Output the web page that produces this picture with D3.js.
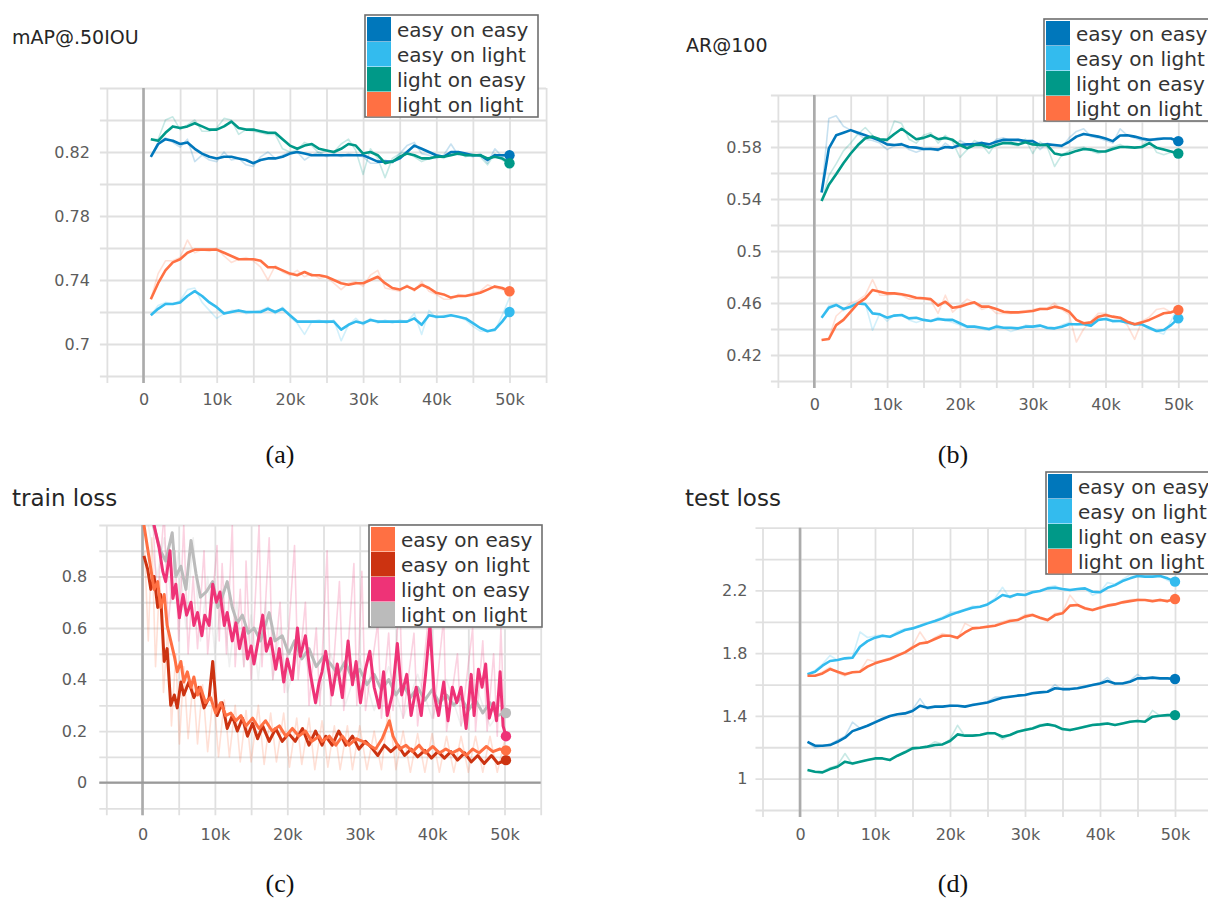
<!DOCTYPE html>
<html>
<head>
<meta charset="utf-8">
<script src="https://cdn.jsdelivr.net/npm/d3@7"></script>
<style>
  body { margin: 0; background: #fff; }
  svg { display: block; font-family: "DejaVu Sans", sans-serif; }
  .grid line { stroke: #e0e0e0; stroke-width: 1.8; }
  .grid text { fill: #5c5c5c; font-size: 16px; font-family: "DejaVu Sans", sans-serif; }
  .title { fill: #262626; }
  .legend text { fill: #333; font-size: 20px; }
  .cap { font-family: "Liberation Serif", serif; font-size: 26px; fill: #111; }
</style>
</head>
<body>
<svg width="1208" height="903"></svg>
<script>
// ---- data ----
// evaluation steps, in thousands
var steps = [1,2,3,4,5,6,7,8,9,10,11,12,13,14,15,16,17,18,19,20,21,22,23,24,25,
             26,27,28,29,30,31,32,33,34,35,36,37,38,39,40,41,42,43,44,45,46,47,48,49,50];

var seriesNames = ["easy on easy", "easy on light", "light on easy", "light on light"];

var xGrid = [-5000,0,5000,10000,15000,20000,25000,30000,35000,40000,45000,50000,55000];
var xLabels = [0,10000,20000,30000,40000,50000];

// (a) mAP@.50IOU, smoothed
var mapEE = [0.817,0.825,0.828,0.827,0.825,0.826,0.822,0.819,0.817,0.816,0.817,0.817,0.816,0.815,0.813,0.815,0.816,0.816,0.817,0.819,0.820,0.819,0.818,0.818,0.818,0.818,0.818,0.818,0.818,0.818,0.816,0.814,0.814,0.814,0.816,0.820,0.824,0.822,0.820,0.818,0.817,0.820,0.820,0.819,0.818,0.818,0.815,0.818,0.818,0.818];
var mapEL = [0.718,0.722,0.725,0.725,0.726,0.730,0.733,0.730,0.726,0.723,0.719,0.720,0.721,0.720,0.720,0.720,0.722,0.720,0.722,0.718,0.714,0.714,0.714,0.714,0.714,0.714,0.709,0.712,0.714,0.713,0.715,0.714,0.714,0.714,0.714,0.714,0.716,0.712,0.718,0.717,0.717,0.718,0.717,0.716,0.713,0.710,0.708,0.709,0.714,0.720];
var mapLE = [0.828,0.827,0.832,0.836,0.835,0.836,0.838,0.836,0.834,0.834,0.836,0.839,0.835,0.834,0.834,0.833,0.832,0.832,0.828,0.824,0.822,0.824,0.825,0.822,0.821,0.820,0.822,0.825,0.824,0.819,0.820,0.818,0.813,0.814,0.817,0.819,0.818,0.816,0.816,0.817,0.817,0.818,0.819,0.818,0.818,0.818,0.816,0.817,0.816,0.813];
var mapLL = [0.728,0.738,0.746,0.751,0.753,0.757,0.759,0.759,0.759,0.759,0.757,0.755,0.753,0.753,0.753,0.752,0.748,0.748,0.746,0.744,0.743,0.745,0.743,0.743,0.742,0.740,0.738,0.737,0.738,0.738,0.740,0.742,0.738,0.735,0.734,0.736,0.734,0.737,0.735,0.732,0.731,0.729,0.730,0.730,0.731,0.732,0.734,0.736,0.735,0.733];
// (a) raw
var mapEERaw = [0.817,0.826,0.829,0.826,0.823,0.828,0.814,0.818,0.815,0.814,0.820,0.815,0.816,0.812,0.811,0.817,0.820,0.816,0.818,0.820,0.820,0.815,0.818,0.820,0.817,0.819,0.817,0.819,0.818,0.817,0.813,0.813,0.815,0.813,0.819,0.824,0.826,0.819,0.818,0.816,0.818,0.825,0.818,0.818,0.817,0.819,0.813,0.822,0.817,0.818];
var mapELRaw = [0.718,0.724,0.726,0.725,0.727,0.734,0.735,0.726,0.721,0.716,0.719,0.721,0.721,0.719,0.720,0.721,0.723,0.719,0.723,0.717,0.713,0.706,0.714,0.715,0.713,0.715,0.702,0.712,0.716,0.712,0.716,0.713,0.715,0.713,0.715,0.714,0.719,0.706,0.721,0.716,0.718,0.718,0.717,0.715,0.711,0.708,0.708,0.708,0.718,0.729];
var mapLERaw = [0.828,0.828,0.840,0.842,0.834,0.837,0.840,0.833,0.833,0.835,0.841,0.840,0.831,0.834,0.833,0.832,0.831,0.831,0.822,0.820,0.821,0.826,0.824,0.819,0.821,0.820,0.825,0.828,0.821,0.806,0.822,0.816,0.804,0.816,0.819,0.820,0.817,0.814,0.816,0.818,0.816,0.819,0.820,0.817,0.819,0.817,0.812,0.819,0.815,0.812];
var mapLLRaw = [0.728,0.744,0.752,0.752,0.754,0.765,0.757,0.759,0.758,0.760,0.755,0.751,0.753,0.754,0.752,0.748,0.740,0.749,0.745,0.743,0.746,0.742,0.744,0.741,0.742,0.738,0.734,0.738,0.739,0.736,0.743,0.746,0.735,0.734,0.733,0.737,0.733,0.739,0.733,0.731,0.728,0.728,0.731,0.730,0.732,0.733,0.737,0.735,0.734,0.732];
var mapGrid = [0.68,0.70,0.72,0.74,0.76,0.78,0.80,0.82,0.84,0.86];
var mapTicks = [0.70,0.74,0.78,0.82];

// (b) AR@100, smoothed
var arEE = [0.545,0.579,0.589,0.591,0.593,0.591,0.589,0.587,0.585,0.582,0.5815,0.582,0.580,0.5795,0.5785,0.5785,0.578,0.580,0.5795,0.5815,0.582,0.582,0.583,0.582,0.584,0.5855,0.5855,0.5855,0.5845,0.5845,0.5815,0.582,0.5815,0.581,0.584,0.588,0.590,0.589,0.588,0.5865,0.5845,0.5888,0.589,0.588,0.5865,0.5855,0.586,0.5865,0.5865,0.5845];
var arEL = [0.4487,0.4564,0.4585,0.4554,0.4572,0.4597,0.459,0.452,0.4513,0.4487,0.4503,0.4508,0.4482,0.4487,0.447,0.4462,0.4477,0.447,0.447,0.4444,0.4418,0.4418,0.441,0.440,0.4418,0.441,0.441,0.4405,0.4418,0.4418,0.4426,0.441,0.4405,0.4418,0.4436,0.4436,0.4436,0.4426,0.447,0.4477,0.4462,0.4462,0.4451,0.4436,0.4436,0.441,0.4385,0.4392,0.443,0.4482];
var arLE = [0.5385,0.551,0.559,0.5675,0.575,0.5815,0.5867,0.588,0.586,0.5855,0.590,0.594,0.590,0.586,0.587,0.589,0.586,0.587,0.5855,0.5815,0.579,0.5815,0.5815,0.5795,0.5815,0.583,0.583,0.582,0.5836,0.582,0.5815,0.5815,0.575,0.5738,0.575,0.577,0.5785,0.578,0.5765,0.5765,0.5785,0.580,0.580,0.5795,0.580,0.583,0.5795,0.578,0.5765,0.575];
var arLL = [0.4315,0.4323,0.443,0.447,0.4533,0.4597,0.4636,0.470,0.4687,0.4674,0.4674,0.4667,0.4656,0.464,0.4636,0.463,0.458,0.461,0.4564,0.4572,0.459,0.4605,0.4572,0.4572,0.4554,0.4533,0.4528,0.4528,0.4533,0.4538,0.4554,0.4554,0.4572,0.456,0.4533,0.447,0.4444,0.4451,0.4495,0.4508,0.4495,0.4487,0.4456,0.4436,0.4451,0.447,0.4495,0.4521,0.4528,0.4546];
// (b) raw
var arEERaw = [0.545,0.602,0.604,0.596,0.593,0.590,0.586,0.585,0.583,0.578,0.581,0.583,0.578,0.576,0.578,0.579,0.577,0.583,0.579,0.585,0.582,0.583,0.584,0.580,0.586,0.587,0.585,0.586,0.584,0.585,0.578,0.583,0.581,0.580,0.587,0.592,0.594,0.588,0.587,0.585,0.583,0.594,0.589,0.587,0.585,0.585,0.587,0.587,0.586,0.583];
var arELRaw = [0.4487,0.458,0.459,0.454,0.458,0.461,0.460,0.439,0.452,0.446,0.451,0.451,0.447,0.445,0.447,0.446,0.449,0.447,0.445,0.443,0.441,0.442,0.440,0.439,0.443,0.441,0.438,0.440,0.443,0.442,0.443,0.440,0.440,0.443,0.445,0.443,0.444,0.442,0.449,0.450,0.445,0.446,0.444,0.443,0.443,0.440,0.438,0.436,0.446,0.458];
var arLERaw = [0.5385,0.558,0.567,0.577,0.583,0.590,0.595,0.589,0.584,0.585,0.600,0.598,0.586,0.583,0.589,0.591,0.583,0.589,0.584,0.572,0.578,0.585,0.582,0.575,0.584,0.584,0.582,0.581,0.586,0.575,0.584,0.580,0.565,0.574,0.577,0.579,0.580,0.577,0.575,0.577,0.580,0.582,0.579,0.579,0.581,0.586,0.576,0.574,0.576,0.574];
var arLLRaw = [0.4315,0.433,0.450,0.455,0.460,0.462,0.466,0.478,0.466,0.466,0.467,0.466,0.463,0.463,0.463,0.462,0.452,0.466,0.453,0.458,0.463,0.460,0.455,0.457,0.452,0.452,0.452,0.453,0.454,0.455,0.456,0.456,0.460,0.455,0.451,0.430,0.440,0.446,0.452,0.452,0.449,0.448,0.443,0.432,0.446,0.449,0.455,0.456,0.453,0.456];
var arGrid = [0.40,0.42,0.44,0.46,0.48,0.50,0.52,0.54,0.56,0.58,0.60,0.62];
var arTicks = [0.42,0.46,0.50,0.54,0.58];

// (c) train loss, smoothed: [step in thousands, loss]
var trEE = [[0.2,1.0],[0.7,0.91],[1.15,0.83],[1.6,0.75],[2.1,0.78],[2.5,0.68],[3,0.73],[3.4,0.61],[3.9,0.55],[4.4,0.49],[4.8,0.43],[5.3,0.47],[5.7,0.39],[6.2,0.43],[6.7,0.37],[7.1,0.41],[7.6,0.34],[8,0.37],[8.7,0.31],[9.4,0.33],[10.1,0.27],[10.8,0.31],[11.5,0.26],[12.2,0.27],[12.9,0.24],[13.6,0.26],[14.3,0.22],[15.2,0.25],[16.1,0.21],[17,0.24],[17.9,0.20],[18.9,0.22],[19.8,0.18],[20.7,0.21],[21.6,0.18],[22.5,0.20],[23.4,0.16],[24.4,0.18],[24.8,0.16],[25.8,0.18],[26.7,0.145],[27.6,0.18],[28.5,0.145],[29.5,0.17],[30.4,0.16],[31.3,0.145],[32.2,0.13],[33.1,0.17],[34.1,0.24],[34.6,0.18],[35.5,0.13],[36.4,0.145],[37.3,0.12],[38.2,0.145],[39.1,0.115],[40.1,0.14],[41,0.115],[41.9,0.13],[42.8,0.115],[43.8,0.13],[44.7,0.105],[45.6,0.13],[46.5,0.115],[47.5,0.14],[48.4,0.12],[49.3,0.13],[50.2,0.125]];
var trEL = [[0.2,0.88],[0.7,0.83],[1.15,0.75],[1.6,0.80],[2.1,0.68],[2.5,0.73],[3,0.47],[3.4,0.52],[3.9,0.30],[4.4,0.34],[4.8,0.29],[5.3,0.39],[5.7,0.34],[6.4,0.39],[7.1,0.33],[7.8,0.37],[8.5,0.29],[9.2,0.33],[9.7,0.47],[10.3,0.26],[11,0.31],[11.7,0.21],[12.4,0.26],[13.1,0.20],[13.8,0.25],[14.5,0.18],[15.2,0.23],[15.9,0.17],[16.6,0.22],[17.5,0.16],[18.4,0.21],[19.3,0.16],[20.2,0.19],[21.1,0.16],[22.1,0.21],[23,0.145],[23.9,0.20],[24.8,0.145],[25.3,0.18],[26.2,0.145],[27.1,0.20],[28.1,0.145],[29,0.18],[29.9,0.13],[30.8,0.16],[31.8,0.13],[32.5,0.105],[33.4,0.145],[34.3,0.12],[35.3,0.145],[36.2,0.105],[37.1,0.13],[38,0.10],[39,0.125],[39.9,0.095],[40.8,0.12],[41.7,0.095],[42.6,0.12],[43.5,0.087],[44.5,0.115],[45.4,0.08],[46.3,0.105],[47.2,0.074],[48.2,0.105],[49.1,0.074],[50.2,0.087]];
var trLE = [[0.3,1.2],[1.15,1.05],[1.6,1.0],[2.3,0.91],[2.8,0.82],[3.2,0.78],[3.8,0.90],[4.2,0.715],[4.6,0.77],[5.1,0.64],[5.6,0.73],[6.1,0.65],[6.7,0.70],[7.1,0.61],[7.6,0.66],[8.2,0.57],[8.6,0.65],[9.2,0.61],[9.7,0.77],[10.2,0.70],[10.7,0.74],[11.3,0.61],[11.7,0.66],[12.4,0.55],[12.9,0.62],[13.4,0.52],[14,0.60],[14.5,0.48],[15,0.53],[15.4,0.46],[16.1,0.57],[16.6,0.65],[17.1,0.51],[17.7,0.56],[18.4,0.44],[18.9,0.52],[19.5,0.39],[20,0.48],[20.7,0.40],[21.4,0.60],[21.8,0.49],[22.5,0.57],[23.2,0.42],[23.9,0.31],[24.4,0.39],[24.8,0.43],[25.3,0.51],[25.8,0.42],[26.2,0.34],[26.9,0.46],[27.6,0.33],[28.4,0.55],[29,0.38],[29.5,0.47],[30.1,0.31],[30.8,0.44],[31.4,0.51],[32,0.37],[32.7,0.29],[33.3,0.43],[33.8,0.26],[34.5,0.34],[35.2,0.54],[35.8,0.34],[36.5,0.42],[37.1,0.26],[37.8,0.37],[38.5,0.26],[39.1,0.42],[39.7,0.61],[40.3,0.34],[40.9,0.26],[41.6,0.39],[42.2,0.24],[42.8,0.37],[43.4,0.31],[44,0.37],[44.7,0.21],[45.4,0.42],[45.8,0.26],[46.4,0.44],[46.9,0.37],[47.4,0.46],[47.9,0.25],[48.5,0.31],[48.9,0.24],[49.4,0.43],[49.8,0.22],[50.2,0.18]];
var trLL = [[0.5,1.1],[1.5,1.0],[2.5,0.90],[3.2,0.86],[4.1,0.97],[4.6,0.80],[5.3,0.84],[6,0.75],[6.7,0.94],[7.4,0.81],[8,0.72],[8.8,0.74],[9.7,0.78],[10.4,0.68],[11,0.72],[11.7,0.78],[12.4,0.68],[13.1,0.62],[13.8,0.65],[14.6,0.58],[15.4,0.60],[16.3,0.55],[17.5,0.66],[18.3,0.55],[19.3,0.57],[20.2,0.50],[21,0.55],[22,0.48],[23,0.52],[24,0.45],[25,0.49],[26,0.46],[27,0.42],[28,0.47],[29,0.40],[30,0.44],[31,0.38],[32,0.42],[33,0.36],[34,0.40],[35,0.34],[36,0.38],[37,0.33],[38,0.37],[39,0.32],[40,0.36],[41,0.31],[42,0.34],[43,0.30],[44,0.33],[45,0.28],[46,0.32],[47,0.27],[48,0.31],[49,0.26],[50.2,0.27]];
// (c) raw
var trEERaw = [[0.3,0.9],[0.8,0.55],[1.3,0.95],[1.8,0.45],[2.4,0.8],[2.9,0.35],[3.5,0.6],[4,0.22],[4.6,0.5],[5.1,0.15],[5.7,0.45],[6.3,0.17],[7,0.4],[7.6,0.15],[8.3,0.38],[9,0.12],[9.8,0.35],[10.5,0.1],[11.3,0.32],[12,0.1],[12.8,0.3],[13.5,0.08],[14.3,0.28],[15,0.08],[16,0.3],[16.8,0.07],[17.7,0.27],[18.5,0.08],[19.5,0.27],[20.3,0.06],[21.3,0.25],[22,0.07],[23,0.25],[23.8,0.05],[24.8,0.24],[25.6,0.06],[26.5,0.22],[27.3,0.05],[28.3,0.22],[29,0.05],[30,0.22],[31,0.05],[32,0.2],[33,0.05],[34,0.3],[35,0.05],[36,0.2],[37,0.04],[38,0.19],[39,0.04],[40,0.19],[41,0.04],[42,0.18],[43,0.04],[44,0.18],[45,0.04],[46,0.18],[47,0.04],[48,0.18],[49,0.04],[50,0.16]];
var trLERaw = [[0.5,1.1],[1.4,1.05],[2,0.7],[3,1.05],[3.5,0.6],[4.5,0.9],[5,0.55],[5.7,1.0],[6.3,0.5],[7,0.8],[7.6,0.52],[8.5,0.9],[9,0.5],[10.3,0.92],[10.6,0.55],[11,0.85],[11.6,0.5],[12.4,1.0],[12.8,0.45],[13.5,0.75],[14,0.45],[14.3,0.86],[15,0.4],[16.1,1.0],[16.5,0.45],[17.5,0.95],[18,0.4],[19,0.7],[19.6,0.35],[21,0.92],[21.5,0.4],[22.5,0.7],[23,0.3],[24,0.6],[24.5,0.3],[25.5,0.9],[26,0.3],[27.2,0.78],[27.8,0.28],[29.2,0.85],[29.6,0.3],[30.3,0.82],[30.8,0.28],[32.5,0.62],[33,0.25],[34,0.58],[34.6,0.28],[35.5,0.75],[36,0.25],[37.5,0.58],[38,0.22],[39.7,0.7],[40.2,0.25],[41.6,0.64],[42,0.2],[43.5,0.5],[44,0.22],[45.6,0.6],[46,0.2],[47,0.55],[47.6,0.2],[48.5,0.5],[49,0.18],[49.5,0.6],[50,0.2]];
var trLLRaw = [[0.5,1.05],[2,0.8],[3,0.95],[4,0.7],[5,0.9],[6,0.6],[7,0.95],[8,0.55],[9,0.8],[10,0.5],[11,0.75],[12,0.45],[13,0.7],[14,0.45],[15,0.65],[16,0.4],[17,0.7],[18,0.4],[19,0.6],[20,0.35],[22,0.55],[24,0.3],[26,0.5],[28,0.3],[30,0.48],[32,0.28],[34,0.45],[36,0.25],[38,0.42],[40,0.25],[42,0.4],[44,0.22],[46,0.38],[48,0.22],[50,0.3]];
var trGrid = [-0.1,0,0.1,0.2,0.3,0.4,0.5,0.6,0.7,0.8,0.9,1.0];
var trTicks = [0,0.2,0.4,0.6,0.8];

// (d) test loss, smoothed
var teEE = [1.235,1.21,1.21,1.214,1.235,1.261,1.303,1.32,1.337,1.359,1.38,1.399,1.41,1.416,1.431,1.465,1.452,1.459,1.459,1.465,1.465,1.459,1.469,1.478,1.486,1.501,1.516,1.522,1.529,1.533,1.544,1.55,1.554,1.576,1.571,1.571,1.576,1.586,1.597,1.607,1.622,1.607,1.607,1.618,1.639,1.639,1.644,1.639,1.639,1.635];
var teEL = [1.665,1.682,1.72,1.75,1.756,1.767,1.771,1.841,1.877,1.899,1.911,1.905,1.926,1.948,1.958,1.973,1.99,2.005,2.022,2.043,2.06,2.075,2.09,2.096,2.111,2.139,2.171,2.16,2.175,2.171,2.188,2.196,2.213,2.217,2.209,2.203,2.209,2.213,2.192,2.188,2.217,2.234,2.26,2.277,2.292,2.288,2.288,2.292,2.277,2.256];
var teLE = [1.055,1.044,1.04,1.061,1.076,1.108,1.097,1.108,1.119,1.129,1.129,1.119,1.146,1.168,1.193,1.197,1.204,1.214,1.218,1.24,1.282,1.274,1.274,1.278,1.289,1.289,1.267,1.278,1.299,1.31,1.32,1.337,1.346,1.337,1.316,1.31,1.32,1.331,1.342,1.346,1.352,1.342,1.352,1.363,1.367,1.363,1.395,1.401,1.405,1.405];
var teLL = [1.656,1.656,1.671,1.699,1.682,1.665,1.678,1.682,1.714,1.735,1.75,1.763,1.784,1.805,1.835,1.862,1.869,1.89,1.911,1.911,1.899,1.932,1.958,1.962,1.969,1.975,1.99,2.005,2.011,2.033,2.043,2.026,2.011,2.043,2.054,2.103,2.107,2.086,2.075,2.09,2.103,2.111,2.124,2.132,2.139,2.139,2.132,2.139,2.132,2.145];
// (d) raw
var teEERaw = [1.235,1.195,1.21,1.22,1.245,1.27,1.36,1.32,1.34,1.365,1.385,1.40,1.41,1.42,1.44,1.51,1.44,1.46,1.455,1.47,1.465,1.455,1.475,1.48,1.49,1.52,1.52,1.525,1.53,1.535,1.55,1.55,1.555,1.60,1.565,1.57,1.58,1.59,1.60,1.61,1.645,1.60,1.61,1.625,1.665,1.635,1.645,1.64,1.64,1.635];
var teELRaw = [1.665,1.69,1.73,1.785,1.755,1.77,1.775,1.935,1.90,1.91,1.915,1.90,1.94,1.955,1.96,1.98,1.995,2.01,2.03,2.06,2.065,2.08,2.10,2.095,2.115,2.15,2.22,2.15,2.18,2.17,2.195,2.20,2.22,2.23,2.205,2.20,2.21,2.215,2.17,2.19,2.25,2.24,2.27,2.30,2.30,2.285,2.29,2.295,2.265,2.24];
var teLERaw = [1.055,1.04,1.045,1.07,1.085,1.16,1.09,1.11,1.12,1.13,1.13,1.115,1.15,1.175,1.20,1.20,1.205,1.235,1.22,1.25,1.34,1.27,1.27,1.28,1.295,1.29,1.25,1.28,1.30,1.315,1.325,1.345,1.35,1.335,1.31,1.305,1.325,1.335,1.345,1.35,1.355,1.34,1.355,1.365,1.37,1.36,1.435,1.40,1.405,1.405];
var teLLRaw = [1.656,1.656,1.68,1.71,1.675,1.655,1.68,1.685,1.76,1.745,1.755,1.77,1.79,1.81,1.845,1.935,1.865,1.90,1.925,1.91,1.89,1.99,1.965,1.965,1.975,1.98,2.00,2.015,2.015,2.045,2.05,2.02,2.005,2.055,2.06,2.17,2.11,2.08,2.07,2.095,2.11,2.115,2.13,2.14,2.145,2.14,2.13,2.145,2.125,2.17];
var teGrid = [0.8,1.0,1.2,1.4,1.6,1.8,2.0,2.2,2.4,2.6];
var teTicks = [1,1.4,1.8,2.2];

// colours (TensorBoard palette)
var evalColors = ["#0077bb", "#33bbee", "#009988", "#ff7043"];
var trainColors = ["#ff7043", "#cc3311", "#ee3377", "#bbbbbb"];

// ---- helpers ----
function onSteps(vals) {
  return vals.map(function(v, i) { return [steps[i], v]; });
}

var svg = d3.select("svg");

var panels = [
  { title: "mAP@.50IOU", tx: 12, ty: 44, ts: 19,
    xr: [106.9, 546.1], yr: [376, 88], yd: [0.68, 0.86], grid: mapGrid, ticks: mapTicks, lpad: 10, bpad: 11,
    colors: evalColors, order: [0, 1, 2, 3], lw: 2.6,
    smooth: [mapEE, mapEL, mapLE, mapLL].map(onSteps),
    raw: [mapEERaw, mapELRaw, mapLERaw, mapLLRaw].map(onSteps),
    legend: [365, 15], cap: "(a)", cx: 280, cy: 463 },
  { title: "AR@100", tx: 686, ty: 52, ts: 19,
    xr: [777.9, 1214.7], yr: [381, 95], yd: [0.40, 0.62], grid: arGrid, ticks: arTicks, lpad: 9, bpad: 11,
    colors: evalColors, order: [0, 1, 2, 3], lw: 2.6,
    smooth: [arEE, arEL, arLE, arLL].map(onSteps),
    raw: [arEERaw, arELRaw, arLERaw, arLLRaw].map(onSteps),
    legend: [1044, 19], cap: "(b)", cx: 953, cy: 463 },
  { title: "train loss", tx: 12, ty: 506, ts: 23,
    xr: [106.3, 540.7], yr: [808.3, 525], yd: [-0.1, 1.0], grid: trGrid, ticks: trTicks, lpad: 12, bpad: 13, zeroLine: true,
    colors: trainColors, order: [3, 1, 0, 2], lw: 3,
    smooth: [trEE, trEL, trLE, trLL],
    raw: [trEERaw, null, trLERaw, trLLRaw],
    legend: [369, 525], cap: "(c)", cx: 280, cy: 892 },
  { title: "test loss", tx: 685, ty: 506, ts: 23,
    xr: [762.5, 1212.5], yr: [810, 527.7], yd: [0.8, 2.6], grid: teGrid, ticks: teTicks, lpad: 8, bpad: 12,
    colors: evalColors, order: [0, 1, 2, 3], lw: 2.6,
    smooth: [teEE, teEL, teLE, teLL].map(onSteps),
    raw: [teEERaw, teELRaw, teLERaw, teLLRaw].map(onSteps),
    legend: [1046, 472], cap: "(d)", cx: 953, cy: 892 }
];

function fmtStep(d) { return d === 0 ? "0" : (d / 1000) + "k"; }
function fmtVal(d) { return String(+d.toFixed(2)); }

panels.forEach(function(p, pi) {
  var g = svg.append("g");
  var x = d3.scaleLinear().domain([-5000, 55000]).range(p.xr);
  var y = d3.scaleLinear().domain(p.yd).range(p.yr);
  var w = p.xr[1] - p.xr[0], h = p.yr[0] - p.yr[1];

  // vertical grid + step labels
  g.append("g").attr("class", "grid")
    .attr("transform", "translate(0," + (p.yr[0] + 7) + ")")
    .call(d3.axisBottom(x).tickValues(xGrid).tickSize(-(h + 7)).tickPadding(p.bpad)
      .tickFormat(function(d) { return xLabels.indexOf(d) >= 0 ? fmtStep(d) : ""; }))
    .call(function(a) { a.select(".domain").remove(); });

  // horizontal grid + value labels
  g.append("g").attr("class", "grid")
    .attr("transform", "translate(" + (p.xr[0] - 7) + ",0)")
    .call(d3.axisLeft(y).tickValues(p.grid).tickSize(-(w + 7)).tickPadding(p.lpad)
      .tickFormat(function(d) {
        return p.ticks.some(function(t) { return Math.abs(t - d) < 1e-9; }) ? fmtVal(d) : "";
      }))
    .call(function(a) { a.select(".domain").remove(); });

  // axis lines
  g.append("line")
    .attr("x1", x(0)).attr("x2", x(0))
    .attr("y1", p.yr[1]).attr("y2", p.yr[0] + 7)
    .attr("stroke", "#ababab").attr("stroke-width", 2.6);
  if (p.zeroLine) {
    g.append("line")
      .attr("x1", p.xr[0] - 7).attr("x2", p.xr[1])
      .attr("y1", y(0)).attr("y2", y(0))
      .attr("stroke", "#9a9a9a").attr("stroke-width", 2.2);
  }

  // clip to the plot area
  var clipId = "clip" + pi;
  svg.append("clipPath").attr("id", clipId)
    .append("rect").attr("x", p.xr[0]).attr("y", p.yr[1]).attr("width", w).attr("height", h);

  var line = d3.line()
    .x(function(d) { return x(d[0] * 1000); })
    .y(function(d) { return y(d[1]); });

  var plot = g.append("g").attr("clip-path", "url(#" + clipId + ")");

  p.order.forEach(function(i) {
    if (p.raw[i]) {
      plot.append("path").datum(p.raw[i])
        .attr("d", line).attr("fill", "none")
        .attr("stroke", p.colors[i]).attr("stroke-opacity", 0.22)
        .attr("stroke-width", 1.6).attr("stroke-linejoin", "round");
    }
  });
  p.order.forEach(function(i) {
    plot.append("path").datum(p.smooth[i])
      .attr("d", line).attr("fill", "none")
      .attr("stroke", p.colors[i]).attr("stroke-width", p.lw)
      .attr("stroke-linejoin", "round");
  });
  p.order.forEach(function(i) {
    var last = p.smooth[i][p.smooth[i].length - 1];
    g.append("circle")
      .attr("cx", x(last[0] * 1000)).attr("cy", y(last[1])).attr("r", 5.2)
      .attr("fill", p.colors[i]);
  });

  // title
  g.append("text").attr("class", "title")
    .attr("x", p.tx).attr("y", p.ty)
    .style("font-size", p.ts + "px")
    .text(p.title);

  // legend
  var lg = g.append("g").attr("class", "legend")
    .attr("transform", "translate(" + p.legend[0] + "," + p.legend[1] + ")");
  lg.append("rect").attr("width", 173).attr("height", 102)
    .attr("fill", "#fff").attr("stroke", "#6e6e6e").attr("stroke-width", 1.6);
  seriesNames.forEach(function(name, i) {
    lg.append("rect").attr("x", 2).attr("y", 2 + 25 * i)
      .attr("width", 24).attr("height", 24.5).attr("fill", p.colors[i]);
    lg.append("text").attr("x", 32).attr("y", 2 + 25 * i + 19.5).text(name);
  });

  // sub-caption
  svg.append("text").attr("class", "cap")
    .attr("x", p.cx).attr("y", p.cy).attr("text-anchor", "middle")
    .text(p.cap);
});
</script>
</body>
</html>
